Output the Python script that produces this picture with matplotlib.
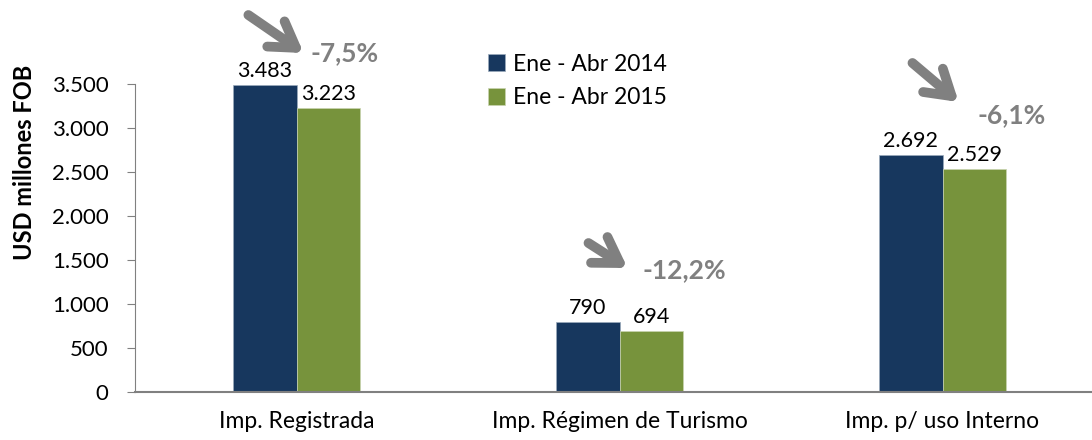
import matplotlib.pyplot as plt
import numpy as np

plt.rcParams['font.family'] = ['Lato', 'DejaVu Sans']

categorias = ['Imp. Registrada', 'Imp. Régimen de Turismo', 'Imp. p/ uso Interno']
series = ['Ene - Abr 2014', 'Ene - Abr 2015']
v2014 = [3483, 790, 2692]
v2015 = [3223, 694, 2529]
etq2014 = ['3.483', '790', '2.692']
etq2015 = ['3.223', '694', '2.529']
variacion = ['-7,5%', '-12,2%', '-6,1%']
yticks = [0, 500, 1000, 1500, 2000, 2500, 3000, 3500]
ytick_lbl = ['0', '500', '1.000', '1.500', '2.000', '2.500', '3.000', '3.500']

# arrow tail / tip and percent text position, offsets from category center
flecha_cola = [(-0.149, 4284), (-0.096, 1693), (-0.093, 3739)]
flecha_punta = [(0.022, 3852), (0.025, 1409), (0.050, 3295)]
pct_pos = [(0.149, 3852), (0.200, 1386), (0.214, 3147)]

azul = '#17375E'
verde = '#77933C'
gris = '#808080'

fig = plt.figure(figsize=(10.92, 4.4), dpi=100, facecolor='w')
ax = fig.add_axes([135/1092, 48/440, 969/1092, 308/440])

x = np.arange(len(categorias))
w = 0.198
ax.bar(x - w/2, v2014, w, color=azul, edgecolor='#9aaabb', linewidth=0.5, label=series[0])
ax.bar(x + w/2, v2015, w, color=verde, edgecolor='#c9d4b0', linewidth=0.5, label=series[1])

for i in range(len(x)):
    ax.annotate(etq2014[i], (x[i] - w/2, v2014[i]), xytext=(0, 3), textcoords='offset points',
                ha='center', va='bottom', fontsize=15.5, clip_on=False)
    ax.annotate(etq2015[i], (x[i] + w/2, v2015[i]), xytext=(0, 3), textcoords='offset points',
                ha='center', va='bottom', fontsize=15.5, clip_on=False)
    ax.annotate('', xy=(x[i] + flecha_punta[i][0], flecha_punta[i][1]),
                xytext=(x[i] + flecha_cola[i][0], flecha_cola[i][1]),
                arrowprops=dict(arrowstyle='->,head_length=0.8,head_width=0.5', lw=7,
                                color=gris, capstyle='round', joinstyle='round',
                                shrinkA=0, shrinkB=0, mutation_scale=22),
                annotation_clip=False)
    ax.text(x[i] + pct_pos[i][0], pct_pos[i][1], variacion[i], ha='center', va='center',
            fontsize=19, fontweight='bold', color=gris, clip_on=False)

ax.set_xlim(-0.5, 2.5)
ax.set_ylim(0, 3500)
ax.set_xticks(x)
ax.set_xticklabels(categorias, fontsize=16.5)
ax.set_yticks(yticks)
ax.set_yticklabels(ytick_lbl, fontsize=16)
ax.tick_params(axis='x', length=0, pad=14)
ax.tick_params(axis='y', length=6, color=gris, pad=13)
ax.spines['top'].set_visible(False)
ax.spines['right'].set_visible(False)
ax.spines['left'].set_color(gris)
ax.spines['bottom'].set_color(gris)
ax.spines['bottom'].set_linewidth(1.5)
fig.text(24/1092, 1 - 162/440, 'USD millones FOB', rotation=90, ha='center', va='center',
         fontsize=17, fontweight='bold')

ax.legend(loc='upper left', bbox_to_anchor=(0.343, 1.165), frameon=False, fontsize=16.5,
          handlelength=0.75, handleheight=0.75, handletextpad=0.35, labelspacing=0.55)

fig.savefig('out.png', dpi=100)
